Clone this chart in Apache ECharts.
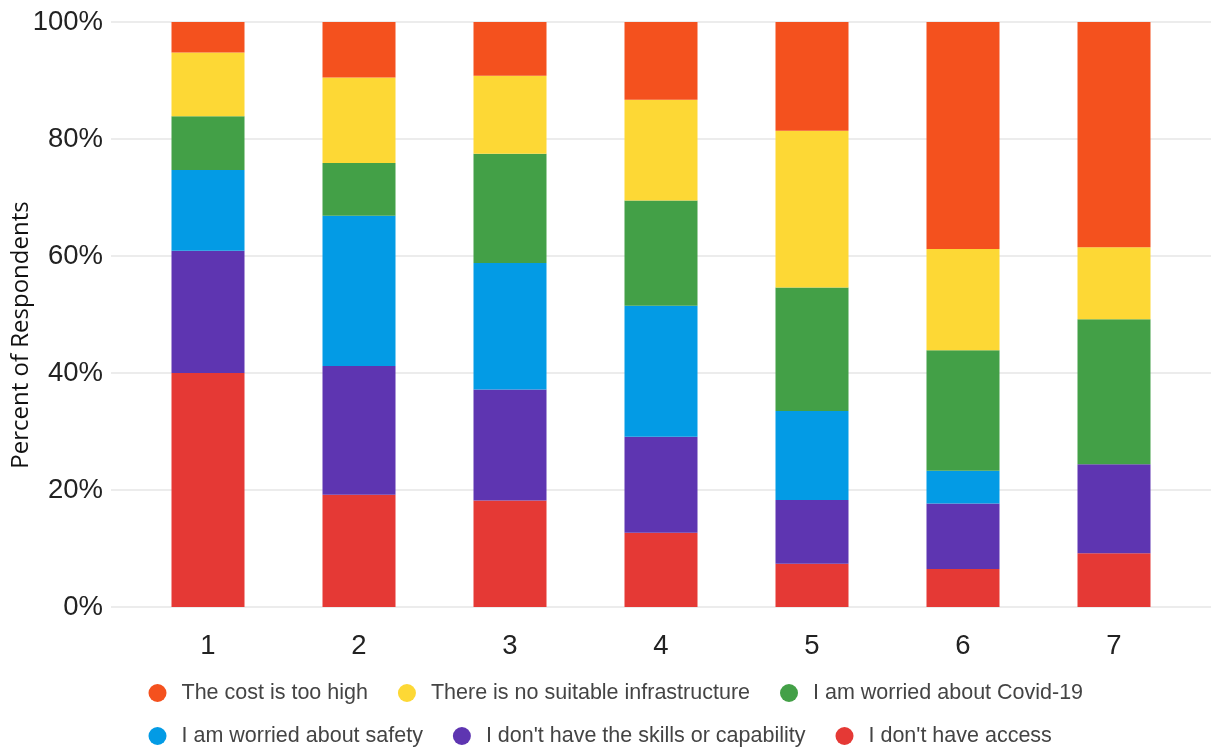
<!DOCTYPE html>
<html>
<head>
<meta charset="utf-8">
<script src="https://cdn.jsdelivr.net/npm/echarts@6/dist/echarts.min.js"></script>
<style>
html,body{margin:0;padding:0;background:#fff;}
#chart{width:1216px;height:747px;}
</style>
</head>
<body>
<div id="chart"></div>
<script>
const categories = ['1', '2', '3', '4', '5', '6', '7'];
const yTicks = [0, 20, 40, 60, 80, 100];

// values in percent, bottom of stack first
const noAccess        = [40.0, 19.2, 18.2, 12.7,  7.4,  6.5,  9.2];
const noSkills        = [20.9, 22.0, 19.0, 16.4, 10.9, 11.2, 15.2];
const worriedSafety   = [13.8, 25.7, 21.6, 22.4, 15.2,  5.6,  0.0];
const worriedCovid    = [ 9.2,  9.0, 18.7, 18.0, 21.1, 20.6, 24.8];
const noInfra         = [10.9, 14.6, 13.3, 17.2, 26.8, 17.3, 12.3];
const costTooHigh     = [ 5.2,  9.5,  9.2, 13.3, 18.6, 38.8, 38.5];

const seriesNames = [
  "I don't have access",
  "I don't have the skills or capability",
  "I am worried about safety",
  "I am worried about Covid-19",
  "There is no suitable infrastructure",
  "The cost is too high"
];
const seriesValues = [noAccess, noSkills, worriedSafety, worriedCovid, noInfra, costTooHigh];
const seriesColors = ['#E53935', '#5E35B1', '#039BE5', '#43A047', '#FDD835', '#F4511E'];
const legendRow1 = [
  "The cost is too high",
  "There is no suitable infrastructure",
  "I am worried about Covid-19"
];
const legendRow2 = [
  "I am worried about safety",
  "I don't have the skills or capability",
  "I don't have access"
];

const FONT = "'Liberation Sans', Arial, sans-serif";
const chart = echarts.init(document.getElementById('chart'), null, {renderer: 'canvas'});

function legendRow(data, top) {
  return {
    data: data,
    left: 148.5, top: top,
    padding: 0,
    icon: 'circle',
    itemWidth: 18, itemHeight: 18, itemGap: 30,
    textStyle: {fontSize: 21.5, color: '#444', fontFamily: FONT, padding: [0, 0, 0, 10]}
  };
}

const option = {
  animation: false,
  backgroundColor: '#ffffff',
  grid: [
    {left: 111, right: 5, top: 22, bottom: 140, containLabel: false},
    {left: 132.5, right: 26.5, top: 22, bottom: 140, containLabel: false}
  ],
  xAxis: [
    {type: 'value', gridIndex: 0, show: false, min: 0, max: 1},
    {
      type: 'category', gridIndex: 1, data: categories,
      axisLine: {show: false}, axisTick: {show: false},
      axisLabel: {fontSize: 27.5, color: '#222', fontFamily: FONT, margin: 25}
    }
  ],
  yAxis: [
    {
      type: 'value', gridIndex: 0, min: yTicks[0], max: yTicks[yTicks.length - 1], interval: 20,
      axisLine: {show: false}, axisTick: {show: false},
      axisLabel: {formatter: '{value}%', fontSize: 27.5, color: '#222', fontFamily: FONT, margin: 8},
      splitLine: {show: true, lineStyle: {color: '#e6e6e6', width: 1.5}}
    },
    {
      type: 'value', gridIndex: 1, min: 0, max: 100, interval: 20, show: false,
      splitLine: {show: false}
    }
  ],
  legend: [legendRow(legendRow1, 682), legendRow(legendRow2, 725)],
  graphic: [{
    type: 'text',
    x: 21, y: 335,
    rotation: Math.PI / 2,
    style: {
      text: 'Percent of Respondents',
      font: "24px 'Open Sans', 'Noto Sans', sans-serif",
      fill: '#111',
      align: 'center',
      verticalAlign: 'middle'
    }
  }],
  series: seriesNames.map((name, i) => ({
    name: name,
    type: 'bar',
    stack: 'total',
    xAxisIndex: 1,
    yAxisIndex: 1,
    barWidth: 73,
    data: seriesValues[i],
    itemStyle: {color: seriesColors[i]}
  }))
};
chart.setOption(option);
</script>
</body>
</html>
